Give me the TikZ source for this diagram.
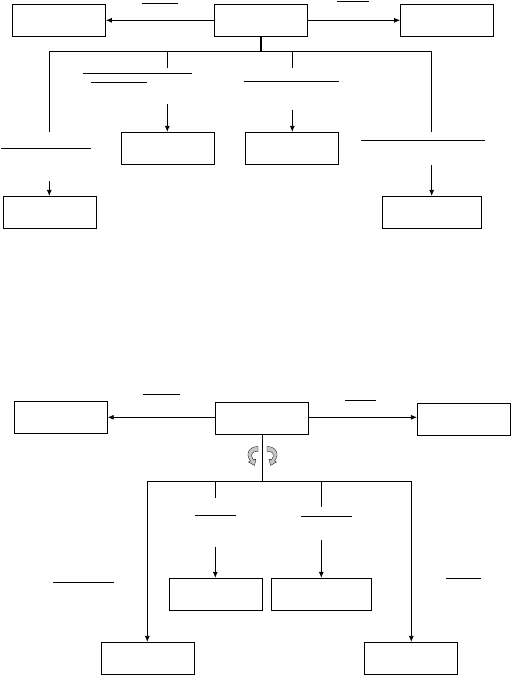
\documentclass[tikz,border=0pt]{standalone}
\usetikzlibrary{arrows.meta}
\begin{document}
\begin{tikzpicture}[x=1pt,y=-1pt,
  box/.style={draw,line width=0.8pt,inner sep=0pt},
  ln/.style={line width=0.8pt},
  arr/.style={line width=0.8pt,-{Latex[length=6pt,width=5pt]}},
  cyc/.style={draw=black,line width=0.3pt,fill=gray!45}]
\useasboundingbox (0,0) rectangle (512,676);
% ---------- top diagram ----------
\node[box,minimum width=93pt,minimum height=32pt] (tl) at (59,20.3) {};
\node[box,minimum width=93pt,minimum height=32pt] (tc) at (260.8,20.3) {};
\node[box,minimum width=93pt,minimum height=32pt] (tr) at (447,20.3) {};
\draw[arr] (tc.west) -- (tl.east);
\draw[arr] (tc.east) -- (tr.west);
\draw[ln] (142,3.3) -- (177.7,3.3);
\draw[ln] (337,1.3) -- (368.7,1.3);
\coordinate (tj) at (261,51.3);
\draw[line width=2pt] (tc.south -| tj) -- (tj);
\coordinate (ha) at (49.3,51.3);
\coordinate (hd) at (431.7,51.3);
\draw[ln] (ha) -- (hd);
\coordinate (hb) at (167.3,51.3);
\coordinate (hc) at (292.3,51.3);
\node[box,minimum width=93pt,minimum height=32pt] (ml) at (167.8,148.3) {};
\node[box,minimum width=93pt,minimum height=32pt] (mr) at (291.8,148.3) {};
\node[box,minimum width=93pt,minimum height=32pt] (bl) at (49.8,212.3) {};
\node[box,minimum width=99pt,minimum height=32pt] (br) at (431.8,212.3) {};
\coordinate (a1) at (49.3,131.7);
\coordinate (a2) at (49.3,181);
\coordinate (b1) at (167.3,67.7);
\coordinate (b2) at (167.3,104);
\coordinate (c1) at (292.3,67.7);
\coordinate (c2) at (292.3,110);
\coordinate (d1) at (431.7,131.7);
\coordinate (d2) at (431.7,165);
\draw[ln] (ha) -- (a1);
\draw[ln] (hb) -- (b1);
\draw[ln] (hc) -- (c1);
\draw[ln] (hd) -- (d1);
\draw[arr] (a2) -- (a2 |- bl.north);
\draw[arr] (b2) -- (b2 |- ml.north);
\draw[arr] (c2) -- (c2 |- mr.north);
\draw[arr] (d2) -- (d2 |- br.north);
\draw[ln] (83,73) -- (191.7,73);
\draw[ln] (91,82) -- (146.7,82);
\draw[ln] (244,81) -- (338.7,81);
\draw[ln] (1,148.3) -- (90.7,148.3);
\draw[ln] (361,140.3) -- (484.7,140.3);
% ---------- bottom diagram ----------
\node[box,minimum width=93pt,minimum height=32pt] (ql) at (60.8,417.3) {};
\node[box,minimum width=93pt,minimum height=32pt] (qc) at (261.8,418.3) {};
\node[box,minimum width=93pt,minimum height=32pt] (qr) at (463.8,419.3) {};
\draw[arr] (qc.west |- 0,417.3) -- (ql.east |- 0,417.3);
\draw[arr] (qc.east |- 0,417.3) -- (qr.west |- 0,417.3);
\draw[ln] (143.3,394.3) -- (179.7,394.3);
\draw[ln] (345,400) -- (375.7,400);
\coordinate (qj) at (262.3,481);
\draw[ln] (qc.south -| qj) -- (qj);
\coordinate (ga) at (147.3,481);
\coordinate (gd) at (411.3,481);
\draw[ln] (ga) -- (gd);
\coordinate (gb) at (215.3,481);
\coordinate (gc) at (321.3,481);
\node[box,minimum width=93pt,minimum height=32pt] (pl) at (215.8,594.2) {};
\node[box,minimum width=100pt,minimum height=32pt] (pr) at (321.3,594.2) {};
\node[box,minimum width=93pt,minimum height=32pt] (sl) at (147.8,658.3) {};
\node[box,minimum width=93pt,minimum height=32pt] (sr) at (410.8,658.3) {};
\draw[arr] (ga) -- (ga |- sl.north);
\draw[arr] (gd) -- (gd |- sr.north);
\coordinate (e1) at (215.3,497.7);
\coordinate (e2) at (215.3,547);
\coordinate (f1) at (321.3,506.7);
\coordinate (f2) at (321.3,540.3);
\draw[ln] (gb) -- (e1);
\draw[ln] (gc) -- (f1);
\draw[arr] (e2) -- (e2 |- pl.north);
\draw[arr] (f2) -- (f2 |- pr.north);
\draw[ln] (195,515.3) -- (235.7,515.3);
\draw[ln] (301,516) -- (351.7,516);
\draw[ln] (53.3,582.7) -- (113.7,582.7);
\draw[ln] (446,578) -- (480.7,578);
% cycle icons
\path[cyc] (258,446.5) .. controls (249,446.5) and (245,454) .. (250.5,461)
  -- (248.5,462) -- (254.5,465.5) -- (256,459) -- (253.5,460)
  .. controls (249.5,455) and (252,450.5) .. (258,451.5) -- cycle;
\path[cyc] (267,446.5) .. controls (276,446.5) and (280,454) .. (274.5,461)
  -- (276.5,462) -- (270.5,465.5) -- (269,459) -- (271.5,460)
  .. controls (275.5,455) and (273,450.5) .. (267,451.5) -- cycle;
\end{tikzpicture}
\end{document}
